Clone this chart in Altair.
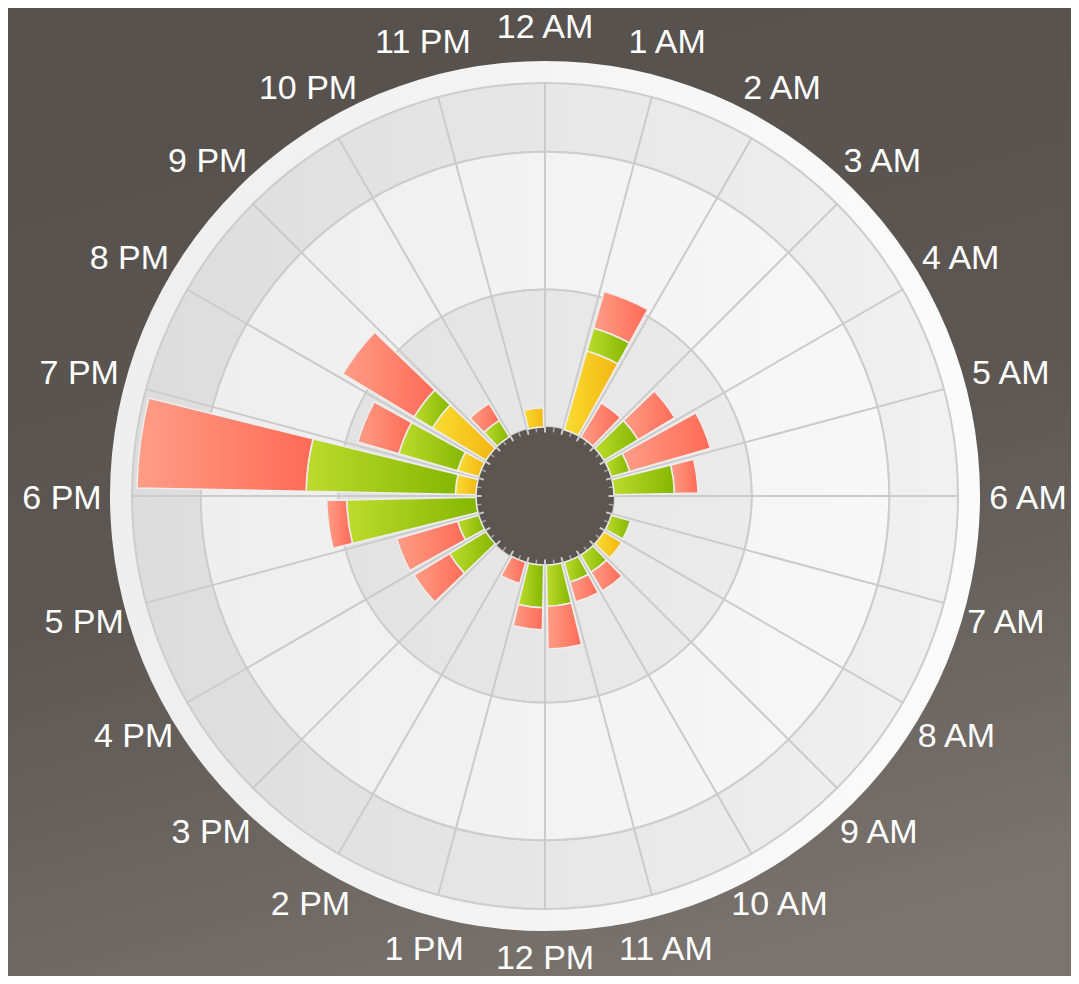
import math
import altair as alt
import pandas as pd

# ---------------- data ----------------
hours = ["12 AM", "1 AM", "2 AM", "3 AM", "4 AM", "5 AM", "6 AM", "7 AM",
         "8 AM", "9 AM", "10 AM", "11 AM", "12 PM", "1 PM", "2 PM", "3 PM",
         "4 PM", "5 PM", "6 PM", "7 PM", "8 PM", "9 PM", "10 PM", "11 PM"]

yellow = [0, 5.95, 0, 0, 0, 0, 0, 0, 1.5, 0, 0, 0,
          0, 0, 0, 0, 0, 0, 1.5, 1.6, 4.55, 0, 0, 1.4]
green = [0, 1.75, 0, 2.9, 1.4, 4.4, 0, 1.45, 0, 1.45, 1.5, 3.0,
         3.1, 0, 0, 3.1, 1.6, 9.4, 10.85, 4.45, 1.55, 1.4, 0, 0]
red = [0, 2.75, 2.9, 3.1, 6.1, 1.7, 0, 0, 0, 1.6, 1.5, 3.1,
       1.6, 1.6, 0, 3.0, 4.6, 1.45, 12.3, 3.1, 6.05, 1.45, 0, 0]

ring_ticks = [0, 10, 20, 25]

# ---------------- layout / style ----------------
W, H = 1063, 968
CX, CY = 537, 488

theta_scale = alt.Scale(type="linear", domain=[0, 24], range=[0, 2 * math.pi])
r_scale = alt.Scale(type="linear", domain=[0, 25], range=[69, 413])


def grad(c1, c2, x1=0, y1=0, x2=1, y2=0):
    return alt.LinearGradient(
        gradient="linear",
        stops=[alt.GradientStop(color=c1, offset=0), alt.GradientStop(color=c2, offset=1)],
        x1=x1, y1=y1, x2=x2, y2=y2)


def arc_encode(t0="t0", t1="t1", r0="r0", r1="r1"):
    return dict(
        x=alt.value(CX), y=alt.value(CY),
        theta=alt.Theta(f"{t0}:Q", scale=theta_scale, stack=None),
        theta2=alt.Theta2(f"{t1}:Q"),
        radius=alt.Radius(f"{r1}:Q", scale=r_scale, stack=None),
        radius2=alt.Radius2(f"{r0}:Q"),
    )


# stacked segments table built from the arrays
rows = []
for k, h in enumerate(hours):
    base = 0.0
    for name, vals in (("yellow", yellow), ("green", green), ("red", red)):
        v = vals[k]
        if v > 0:
            rows.append(dict(hour=h, k=k, series=name, r0=base, r1=base + v))
            base += v
seg = pd.DataFrame(rows)

# ---------------- layers ----------------
bg = alt.Chart(pd.DataFrame({"a": [0]})).mark_rect(
    fill=alt.LinearGradient(
        gradient="linear",
        stops=[alt.GradientStop(color="#56514d", offset=0),
               alt.GradientStop(color="#5c5753", offset=0.5),
               alt.GradientStop(color="#7a736e", offset=1)],
        x1=0.35, y1=0, x2=0.65, y2=1),
    strokeWidth=0,
).encode(x=alt.value(0), x2=alt.value(W), y=alt.value(0), y2=alt.value(H))

bands_df = pd.DataFrame({
    "r0": [ring_ticks[3], ring_ticks[2], ring_ticks[1], ring_ticks[0]],
    "r1": [ring_ticks[3], ring_ticks[3], ring_ticks[2], ring_ticks[1]],
    "band": ["rim", "outer", "middle", "inner"],
})


def band_layer(name, fill, extra_r1=None, stroke=True):
    ch = alt.Chart(bands_df).transform_filter(f"datum.band == '{name}'")
    ch = ch.transform_calculate(t0="0", t1="24")
    if extra_r1 is not None:
        ch = ch.transform_calculate(r1=f"datum.r1 + {extra_r1}")
    props = dict(fill=fill)
    if stroke:
        props.update(stroke="#cdcdcd", strokeWidth=2)
    else:
        props.update(strokeWidth=0)
    return ch.mark_arc(**props).encode(**arc_encode())


rim = band_layer("rim", grad("#eeeeee", "#fbfbfb"), extra_r1=1.6, stroke=False)
outer = band_layer("outer", grad("#dcdcdc", "#f1f1f1"))
middle = band_layer("middle", grad("#eeeeee", "#f7f7f7"))
inner = band_layer("inner", grad("#e2e2e2", "#ebebeb"))

hole = alt.Chart(pd.DataFrame({"a": [0]})).transform_calculate(
    t0="0", t1="24", r0="-5", r1="0"
).mark_arc(fill="#5b5652", strokeWidth=0).encode(**arc_encode())

spk = pd.DataFrame({"k": list(range(len(hours)))})
spokes = alt.Chart(spk).transform_calculate(
    r0="-0.35", r1="25"
).mark_arc(fillOpacity=0, stroke="#cbcbcb", strokeWidth=2, strokeJoin="round").encode(
    **arc_encode(t0="k", t1="k"))

minor = alt.Chart(spk).transform_calculate(
    kk="datum.k + 0.5", r0="-0.35", r1="0"
).mark_arc(fillOpacity=0, stroke="#a9a6a3", strokeWidth=1.5).encode(
    **arc_encode(t0="kk", t1="kk"))

colors = {
    "yellow": ("#f9dc32", "#f4b612"),
    "green": ("#bddb2e", "#84b700"),
    "red": ("#ff9d86", "#ff6b57"),
}

bar_layers = []
for name in ("yellow", "green", "red"):
    c1, c2 = colors[name]
    bar_layers.append(
        alt.Chart(seg).transform_filter(f"datum.series == '{name}'")
        .transform_calculate(t0="datum.k + 0.075", t1="datum.k + 0.925")
        .mark_arc(fill=grad(c1, c2), stroke="#eeeeee", strokeWidth=1.5)
        .encode(**arc_encode(), tooltip=["hour:N", "series:N"])
    )

lab = pd.DataFrame({"label": hours, "k": list(range(len(hours)))})
labels = alt.Chart(lab).transform_calculate(
    lr=("datum.k == 12 ? 460 : "
        "(cos(datum.k * PI / 12) >= -0.01 ? 471 : 466) "
        "+ 12 * pow(sin(datum.k * PI / 12), 2)")
).mark_text(
    font="Liberation Sans", fontSize=34, color="white",
    align="center", baseline="middle", dy=3
).encode(
    x=alt.value(CX), y=alt.value(CY),
    theta=alt.Theta("k:Q", scale=theta_scale, stack=None),
    radius=alt.Radius("lr:Q", scale=None),
    text="label:N",
)

chart = alt.layer(
    bg, rim, outer, middle, inner, hole, spokes, minor, *bar_layers, labels
).properties(
    width=W, height=H, padding=0, autosize="none", background="#5c5753"
).configure_view(stroke=None)

chart.save("out.html", embed_options={"renderer": "svg", "actions": False})
